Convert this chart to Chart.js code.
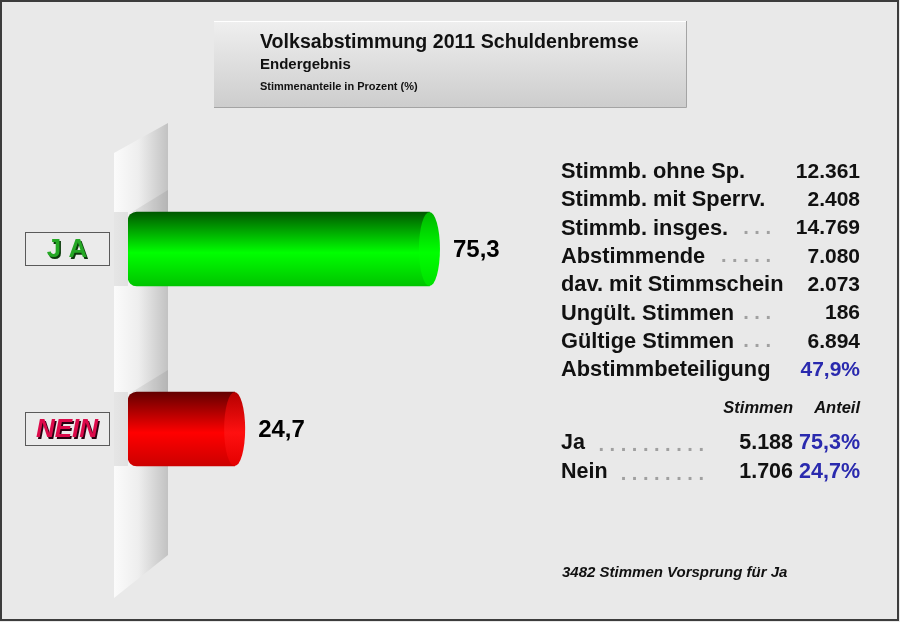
<!DOCTYPE html>
<html lang="de">
<head>
<meta charset="UTF-8">
<title>Volksabstimmung 2011 Schuldenbremse</title>
<script src="https://cdn.jsdelivr.net/npm/chart.js"></script>
<style>
  body { margin: 0; background: #e9e9e9; }
  #wrap { width: 900px; height: 622px; }
</style>
</head>
<body>
<div id="wrap"><canvas id="grafik" width="900" height="622"></canvas></div>
<script>
// Daten
const kategorien = ['J A', 'NEIN'];
const anteile = [75.3, 24.7];
const anteilTexte = ['75,3', '24,7'];

const titel = 'Volksabstimmung 2011 Schuldenbremse';
const untertitel = 'Endergebnis';
const einheit = 'Stimmenanteile in Prozent (%)';

const statLabels = ['Stimmb. ohne Sp.', 'Stimmb. mit Sperrv.', 'Stimmb. insges.', 'Abstimmende',
  'dav. mit Stimmschein', 'Ungült. Stimmen', 'Gültige Stimmen', 'Abstimmbeteiligung'];
const statPunkte = ['', '', '. . .', '. . . . .', '', '. . .', '. . .', ''];
const statWerte = ['12.361', '2.408', '14.769', '7.080', '2.073', '186', '6.894', '47,9%'];

const ergebnisLabels = ['Ja', 'Nein'];
const ergebnisPunkte = ['. . . . . . . . . .', '. . . . . . . .'];
const ergebnisStimmen = ['5.188', '1.706'];
const ergebnisAnteile = ['75,3%', '24,7%'];
const vorsprung = '3482 Stimmen Vorsprung für Ja';

// Farben der Zylinder (oben, Mitte, unten)
const koerperFarben = [['#005800', '#00ff00', '#00c400'], ['#640000', '#ff0000', '#cc0000']];
const deckelFarben = [['#00b400', '#00ff00', '#00e000'], ['#b40000', '#ff1010', '#e40000']];
const FONT = '"Liberation Sans", Arial, sans-serif';
const BLAU = '#2a2aae';
const HALB = 37;   // halbe Balkendicke
const DECKEL = 10.5;

function verlauf(ctx, y, farben) {
  const g = ctx.createLinearGradient(0, y - HALB, 0, y + HALB);
  g.addColorStop(0, farben[0]);
  g.addColorStop(0.55, farben[1]);
  g.addColorStop(1, farben[2]);
  return g;
}

// Hintergrund, Rahmen, Titelkasten
const hintergrund = {
  id: 'hintergrund',
  beforeDraw(chart) {
    const c = chart.ctx;
    c.save();
    c.fillStyle = '#e9e9e9';
    c.fillRect(0, 0, 900, 622);
    c.strokeStyle = '#3c3c3c';
    c.lineWidth = 2;
    c.strokeRect(1, 1, 897, 619);

    // Titelkasten
    const g = c.createLinearGradient(0, 21, 0, 107);
    g.addColorStop(0, '#efefef');
    g.addColorStop(1, '#cdcdcd');
    c.fillStyle = g;
    c.fillRect(214, 21, 472, 86);
    c.strokeStyle = '#ffffff';
    c.lineWidth = 1;
    c.beginPath(); c.moveTo(214, 21.5); c.lineTo(686, 21.5); c.stroke();
    c.strokeStyle = '#a4a4a4';
    c.beginPath(); c.moveTo(686.5, 21); c.lineTo(686.5, 107.5); c.lineTo(214, 107.5); c.stroke();

    c.fillStyle = '#111';
    c.textBaseline = 'middle';
    c.textAlign = 'left';
    c.font = 'bold 19.6px ' + FONT;
    c.fillText(titel, 260, 43);
    c.font = 'bold 15px ' + FONT;
    c.fillText(untertitel, 260, 65);
    c.font = 'bold 11px ' + FONT;
    c.fillText(einheit, 260, 87);
    c.restore();
  }
};

// Wand hinter den Balken
const wand = {
  id: 'wand',
  beforeDatasetsDraw(chart) {
    const c = chart.ctx;
    const meta = chart.getDatasetMeta(0);
    c.save();
    const g = c.createLinearGradient(114, 0, 168, 0);
    g.addColorStop(0, '#fbfbfb');
    g.addColorStop(0.45, '#eeeeee');
    g.addColorStop(1, '#c2c2c2');
    c.fillStyle = g;
    c.beginPath();
    c.moveTo(114, 153); c.lineTo(168, 123); c.lineTo(168, 555); c.lineTo(114, 598);
    c.closePath();
    c.fill();
    meta.data.forEach((bar) => {
      const oben = bar.y - HALB;
      c.fillStyle = 'rgba(190,190,190,0.35)';
      c.fillRect(114, oben, bar.base - 114, HALB * 2);
      c.fillStyle = 'rgba(0,0,0,0.07)';
      c.beginPath();
      c.moveTo(bar.base + 4, oben); c.lineTo(168, oben - 22); c.lineTo(168, oben);
      c.closePath();
      c.fill();
    });
    c.restore();
  }
};

// Deckel, Werte und Kategorie-Kästen
const beschriftung = {
  id: 'beschriftung',
  afterDatasetsDraw(chart) {
    const c = chart.ctx;
    const meta = chart.getDatasetMeta(0);
    c.save();
    meta.data.forEach((bar, i) => {
      // Deckel des Zylinders
      c.fillStyle = verlauf(c, bar.y, deckelFarben[i]);
      c.beginPath();
      c.ellipse(bar.x, bar.y, DECKEL, HALB, 0, 0, Math.PI * 2);
      c.fill();

      // Wert
      c.fillStyle = '#000';
      c.font = 'bold 24px ' + FONT;
      c.textAlign = 'left';
      c.textBaseline = 'middle';
      c.fillText(anteilTexte[i], bar.x + DECKEL + 13, bar.y + 1);

      // Kategorie-Kasten
      c.fillStyle = '#ebebeb';
      c.fillRect(25, bar.y - 17, 85, 34);
      c.strokeStyle = '#5a5a5a';
      c.lineWidth = 1;
      c.strokeRect(25.5, bar.y - 16.5, 84, 33);
      c.textAlign = 'center';
      if (i === 0) {
        c.font = 'bold 26px ' + FONT;
        c.fillStyle = '#0b3a0b';
        c.fillText(kategorien[i], 68.5, bar.y + 2.5);
        c.fillStyle = '#25a825';
        c.fillText(kategorien[i], 67, bar.y + 1);
      } else {
        c.font = 'italic bold 26px ' + FONT;
        c.fillStyle = '#2a0010';
        c.fillText(kategorien[i], 68.5, bar.y + 2.5);
        c.fillStyle = '#dc0a4a';
        c.fillText(kategorien[i], 67, bar.y + 1);
      }
    });
    c.restore();
  }
};

// Tabelle rechts
const tabelle = {
  id: 'tabelle',
  afterDraw(chart) {
    const c = chart.ctx;
    c.save();
    c.textBaseline = 'middle';
    statLabels.forEach((t, i) => {
      const y = 172 + i * 28.3;
      c.font = 'bold 21.8px ' + FONT;
      c.textAlign = 'left';
      c.fillStyle = '#111';
      c.fillText(t, 561, y);
      if (statPunkte[i]) {
        c.textAlign = 'right';
        c.fillStyle = '#a0a0a0';
        c.font = 'bold 20px ' + FONT;
        c.fillText(statPunkte[i], 771, y);
      }
      c.textAlign = 'right';
      c.font = 'bold 21px ' + FONT;
      c.fillStyle = i === statLabels.length - 1 ? BLAU : '#111';
      c.fillText(statWerte[i], 860, y);
    });

    c.font = 'italic bold 16.5px ' + FONT;
    c.fillStyle = '#111';
    c.textAlign = 'right';
    c.fillText('Stimmen', 793, 408);
    c.fillText('Anteil', 860, 408);

    ergebnisLabels.forEach((t, i) => {
      const y = 443 + i * 29;
      c.font = 'bold 21.5px ' + FONT;
      c.textAlign = 'left';
      c.fillStyle = '#111';
      c.fillText(t, 561, y);
      c.textAlign = 'right';
      c.fillStyle = '#a0a0a0';
      c.font = 'bold 20px ' + FONT;
      c.fillText(ergebnisPunkte[i], 704, y + 2);
      c.font = 'bold 21.5px ' + FONT;
      c.fillStyle = '#111';
      c.fillText(ergebnisStimmen[i], 793, y);
      c.fillStyle = BLAU;
      c.fillText(ergebnisAnteile[i], 860, y);
    });

    c.font = 'italic bold 15px ' + FONT;
    c.textAlign = 'left';
    c.fillStyle = '#111';
    c.fillText(vorsprung, 562, 573);
    c.restore();
  }
};

const ctx = document.getElementById('grafik').getContext('2d');
const chart = new Chart(ctx, {
  type: 'bar',
  data: {
    labels: kategorien,
    datasets: [{
      data: anteile,
      base: -3,
      barThickness: HALB * 2,
      borderSkipped: false,
      borderRadius: { topLeft: 9, bottomLeft: 9, topRight: 0, bottomRight: 0 },
      backgroundColor: (c) => {
        const ch = c.chart;
        if (!ch.chartArea || c.dataIndex === undefined) return '#00cc00';
        const y = ch.scales.y.getPixelForValue(c.dataIndex);
        return verlauf(ch.ctx, y, koerperFarben[c.dataIndex]);
      }
    }]
  },
  options: {
    indexAxis: 'y',
    responsive: false,
    animation: false,
    devicePixelRatio: 1,
    layout: { padding: { left: 128, right: 387, top: 159, bottom: 103 } },
    scales: {
      x: { type: 'linear', min: -3, max: 97, display: false },
      y: { display: false }
    },
    plugins: {
      legend: { display: false },
      tooltip: { enabled: false }
    }
  },
  plugins: [hintergrund, wand, beschriftung, tabelle]
});
</script>
</body>
</html>
